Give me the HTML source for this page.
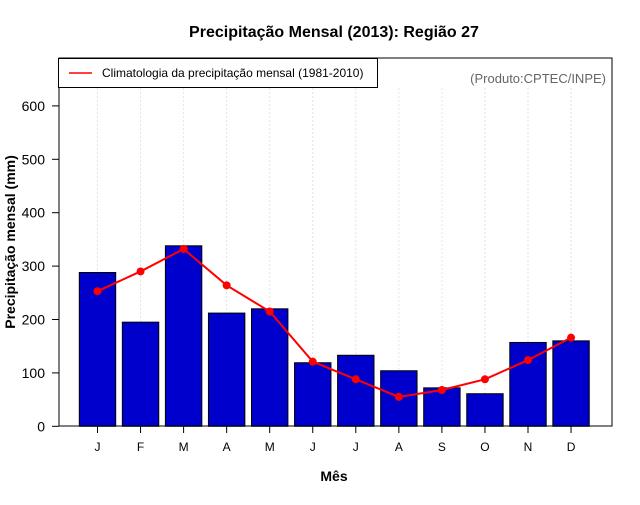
<!DOCTYPE html>
<html><head><meta charset="utf-8"><style>
body{margin:0;background:#fff}
svg text{font-family:"Liberation Sans",sans-serif}
</style></head><body>
<svg id="c" width="640" height="500" xmlns="http://www.w3.org/2000/svg">
<text x="334" y="37" text-anchor="middle" font-size="16" font-weight="bold">Precipitação Mensal (2013): Região 27</text>
<text x="334" y="481" text-anchor="middle" font-size="14" font-weight="bold">Mês</text>
<text transform="translate(15,242) rotate(-90)" text-anchor="middle" font-size="14" font-weight="bold">Precipitação mensal (mm)</text>
<g id="grid"></g><g id="bars"></g><g id="line"></g><g id="axes"></g>
<rect x="59" y="58" width="553" height="368" fill="none" stroke="#000" stroke-width="1"/>
<g>
<rect x="58.5" y="58.5" width="319" height="29" fill="#fff" stroke="#000"/>
<line x1="69" y1="73" x2="92" y2="73" stroke="#f00" stroke-width="1.5"/>
<text x="102" y="77" font-size="12">Climatologia da precipitação mensal (1981-2010)</text>
</g>
<text x="606" y="83" text-anchor="end" font-size="13" fill="#666">(Produto:CPTEC/INPE)</text>
</svg>
<script>
const months=["J","F","M","A","M","J","J","A","S","O","N","D"];
const observed=[288,195,338,212,220,119,133,104,72,61,157,160];
const climatology=[253,290,332,264,215,121,88,55,68,88,124,166];
const yTicks=[0,100,200,300,400,500,600];
const NS="http://www.w3.org/2000/svg";
const x=i=>97.5+i*43.05;
const y=v=>426.3-v*0.534;
function mk(t,a,p){const e=document.createElementNS(NS,t);for(const k in a)e.setAttribute(k,a[k]);p.appendChild(e);return e;}
const grid=document.getElementById('grid'),bars=document.getElementById('bars'),line=document.getElementById('line'),axes=document.getElementById('axes');
months.forEach((m,i)=>{
 const g=mk('line',{x1:x(i),x2:x(i),y1:88,y2:426,stroke:'#e4e4e4','stroke-dasharray':'2,2'},grid);
 
 
 const b=mk('rect',{x:x(i)-18.2,y:y(observed[i]),width:36.4,height:y(0)-y(observed[i]),fill:'#0000cc',stroke:'#000','stroke-width':1},bars);
 
 
 const t=mk('line',{x1:x(i),x2:x(i),y1:426,y2:433,stroke:'#000'},axes);
 
 
 const l=mk('text',{x:x(i),y:451,'text-anchor':'middle','font-size':12},axes);l.textContent=m;
 
 
});
const pl=mk('polyline',{points:climatology.map((v,i)=>x(i)+','+y(v)).join(' '),fill:'none',stroke:'#f00','stroke-width':2},line);


climatology.forEach((v,i)=>{const c=mk('circle',{cx:x(i),cy:y(v),r:4,fill:'#f00'},line);
 
 });
yTicks.forEach(v=>{
 const t=mk('line',{x1:52,x2:59,y1:y(v),y2:y(v),stroke:'#000'},axes);
 
 
 const l=mk('text',{x:45,y:y(v)+5,'text-anchor':'end','font-size':14},axes);l.textContent=v;
 
 
});
</script>
</body></html>
